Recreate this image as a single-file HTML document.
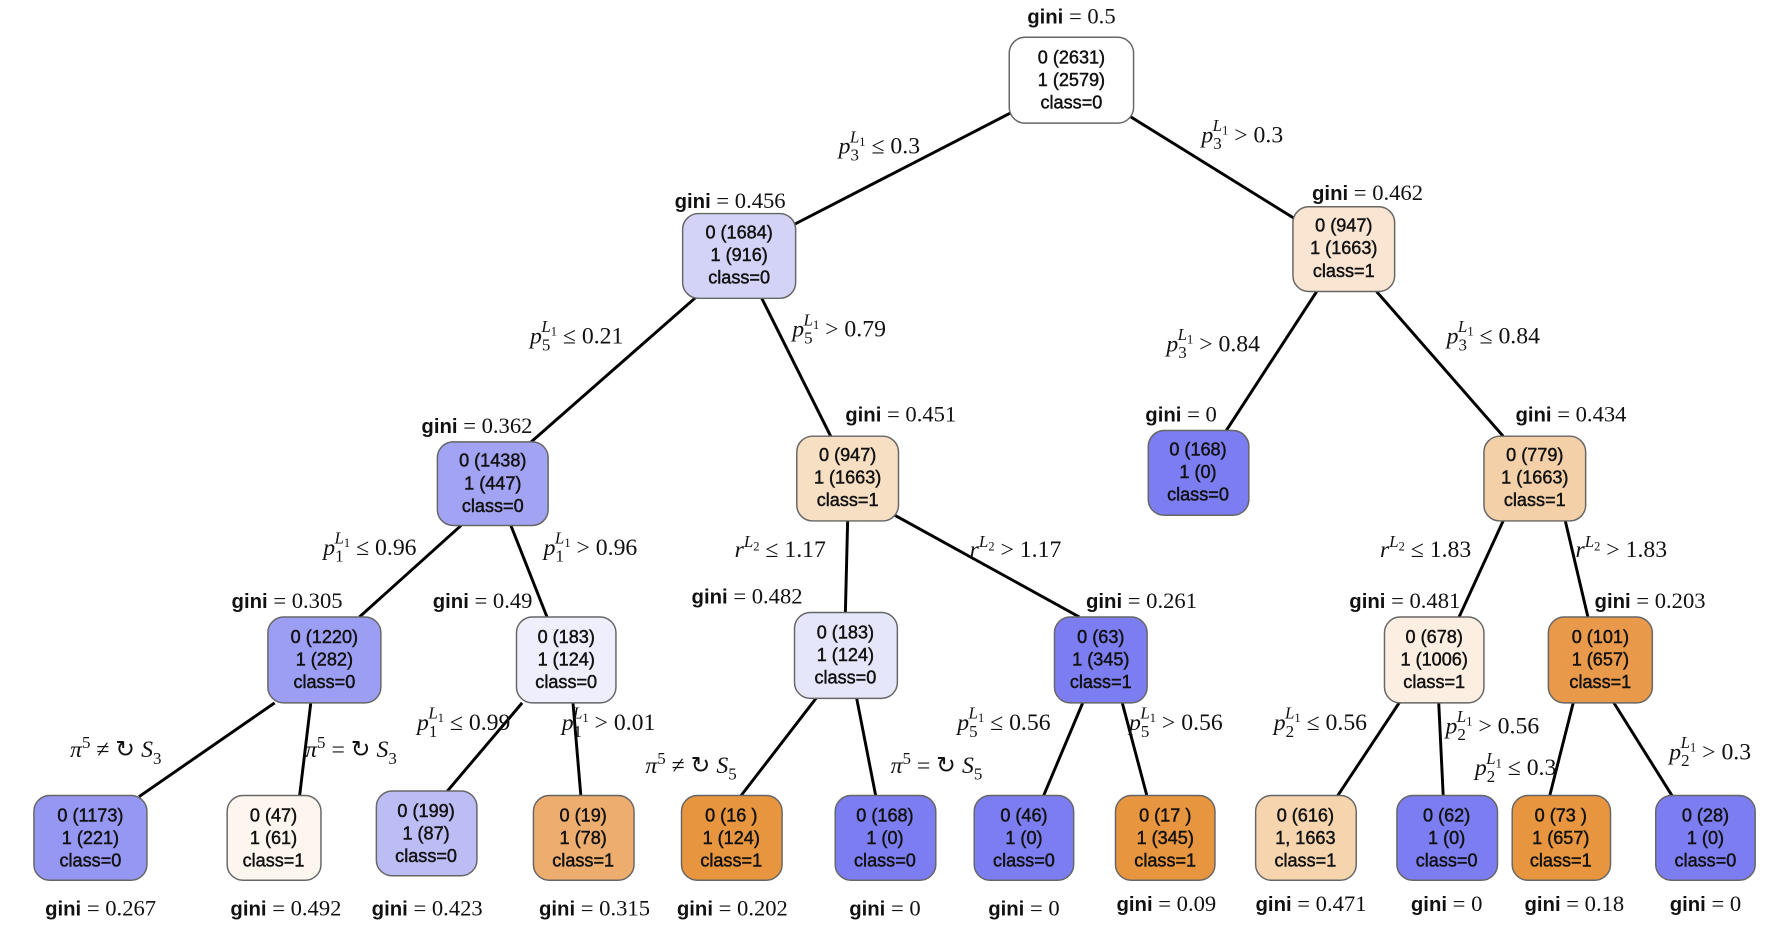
<!DOCTYPE html>
<html><head><meta charset="utf-8"><style>
html,body{margin:0;padding:0;background:#fff;}
svg{display:block}
.n{font-family:"Liberation Sans",sans-serif;font-size:16px;text-anchor:middle;fill:#111;font-weight:normal;stroke:#111;stroke-width:0.4}
.g{font-family:"Liberation Serif",serif;font-size:20px;fill:#111}
.gb{font-family:"Liberation Sans",sans-serif;font-weight:bold;font-size:18px}
.l{font-family:"Liberation Serif",serif;font-size:21px;fill:#111}
.i{font-style:italic}
.s{font-size:15px}
.ss{font-size:11px}
line{stroke:#000;stroke-width:2.6}
rect{stroke:#666;stroke-width:1.3}
</style></head><body>
<svg width="1771" height="930" viewBox="0 0 1567 823" preserveAspectRatio="none" xmlns="http://www.w3.org/2000/svg">
<!-- edges -->
<line x1="898" y1="98" x2="700" y2="200"/>
<line x1="995" y1="100" x2="1148" y2="195"/>
<line x1="617" y1="262" x2="470" y2="391"/>
<line x1="673" y1="262" x2="735" y2="386"/>
<line x1="1165" y1="258" x2="1085" y2="381"/>
<line x1="1218" y1="258" x2="1330" y2="386"/>
<line x1="408" y1="465" x2="318" y2="546"/>
<line x1="452" y1="465" x2="484" y2="546"/>
<line x1="750" y1="461" x2="748" y2="542"/>
<line x1="790" y1="455" x2="955" y2="546"/>
<line x1="1330" y1="461" x2="1291" y2="546"/>
<line x1="1385" y1="461" x2="1405" y2="546"/>
<line x1="243" y1="622" x2="123" y2="705"/>
<line x1="275" y1="622" x2="265" y2="705"/>
<line x1="462" y1="622" x2="395" y2="701"/>
<line x1="507" y1="622" x2="514" y2="705"/>
<line x1="722" y1="618" x2="655" y2="705"/>
<line x1="758" y1="618" x2="775" y2="705"/>
<line x1="958" y1="622" x2="923" y2="705"/>
<line x1="993" y1="622" x2="1015" y2="705"/>
<line x1="1238" y1="622" x2="1183" y2="705"/>
<line x1="1273" y1="622" x2="1277" y2="705"/>
<line x1="1392" y1="622" x2="1371" y2="705"/>
<line x1="1428" y1="622" x2="1480" y2="705"/>

<!-- nodes -->
<g>
<rect x="893" y="33" width="110" height="76" rx="14" fill="#ffffff"/>
<text class="n" x="948" y="56">0 (2631)</text><text class="n" x="948" y="76">1 (2579)</text><text class="n" x="948" y="96">class=0</text>

<rect x="604" y="189" width="100" height="75" rx="14" fill="#d3d3f7"/>
<text class="n" x="654" y="211">0 (1684)</text><text class="n" x="654" y="231">1 (916)</text><text class="n" x="654" y="251">class=0</text>

<rect x="1144" y="183" width="90" height="75" rx="14" fill="#f9e5d2"/>
<text class="n" x="1189" y="205">0 (947)</text><text class="n" x="1189" y="225">1 (1663)</text><text class="n" x="1189" y="245">class=1</text>

<rect x="387" y="391" width="98" height="74" rx="14" fill="#a3a3f3"/>
<text class="n" x="436" y="413">0 (1438)</text><text class="n" x="436" y="433">1 (447)</text><text class="n" x="436" y="453">class=0</text>

<rect x="705" y="386" width="90" height="75" rx="14" fill="#f7dfc3"/>
<text class="n" x="750" y="408">0 (947)</text><text class="n" x="750" y="428">1 (1663)</text><text class="n" x="750" y="448">class=1</text>

<rect x="1016" y="381" width="89" height="75" rx="14" fill="#7b7df0"/>
<text class="n" x="1060" y="403">0 (168)</text><text class="n" x="1060" y="423">1 (0)</text><text class="n" x="1060" y="443">class=0</text>

<rect x="1313" y="386" width="90" height="75" rx="14" fill="#f4d0a8"/>
<text class="n" x="1358" y="408">0 (779)</text><text class="n" x="1358" y="428">1 (1663)</text><text class="n" x="1358" y="448">class=1</text>

<rect x="237" y="546" width="100" height="76" rx="14" fill="#9b9ef3"/>
<text class="n" x="287" y="569">0 (1220)</text><text class="n" x="287" y="589">1 (282)</text><text class="n" x="287" y="609">class=0</text>

<rect x="457" y="546" width="88" height="76" rx="14" fill="#eeeefc"/>
<text class="n" x="501" y="569">0 (183)</text><text class="n" x="501" y="589">1 (124)</text><text class="n" x="501" y="609">class=0</text>

<rect x="703" y="542" width="91" height="76" rx="14" fill="#e6e6fb"/>
<text class="n" x="748" y="565">0 (183)</text><text class="n" x="748" y="585">1 (124)</text><text class="n" x="748" y="605">class=0</text>

<rect x="933" y="546" width="82" height="76" rx="14" fill="#7b7df0"/>
<text class="n" x="974" y="569">0 (63)</text><text class="n" x="974" y="589">1 (345)</text><text class="n" x="974" y="609">class=1</text>

<rect x="1225" y="546" width="88" height="76" rx="14" fill="#fcefe2"/>
<text class="n" x="1269" y="569">0 (678)</text><text class="n" x="1269" y="589">1 (1006)</text><text class="n" x="1269" y="609">class=1</text>

<rect x="1370" y="546" width="92" height="76" rx="14" fill="#e9994a"/>
<text class="n" x="1416" y="569">0 (101)</text><text class="n" x="1416" y="589">1 (657)</text><text class="n" x="1416" y="609">class=1</text>

<!-- leaves -->
<rect x="30" y="704" width="100" height="75" rx="14" fill="#9597f2"/>
<text class="n" x="80" y="727">0 (1173)</text><text class="n" x="80" y="747">1 (221)</text><text class="n" x="80" y="767">class=0</text>

<rect x="201" y="704" width="83" height="75" rx="14" fill="#fdf6ee"/>
<text class="n" x="242" y="727">0 (47)</text><text class="n" x="242" y="747">1 (61)</text><text class="n" x="242" y="767">class=1</text>

<rect x="333" y="700" width="89" height="75" rx="14" fill="#bdbdf5"/>
<text class="n" x="377" y="723">0 (199)</text><text class="n" x="377" y="743">1 (87)</text><text class="n" x="377" y="763">class=0</text>

<rect x="472" y="704" width="89" height="75" rx="14" fill="#edad6e"/>
<text class="n" x="516" y="727">0 (19)</text><text class="n" x="516" y="747">1 (78)</text><text class="n" x="516" y="767">class=1</text>

<rect x="603" y="704" width="89" height="75" rx="14" fill="#e8953f"/>
<text class="n" x="647" y="727">0 (16 )</text><text class="n" x="647" y="747">1 (124)</text><text class="n" x="647" y="767">class=1</text>

<rect x="739" y="704" width="89" height="75" rx="14" fill="#7b7df0"/>
<text class="n" x="783" y="727">0 (168)</text><text class="n" x="783" y="747">1 (0)</text><text class="n" x="783" y="767">class=0</text>

<rect x="862" y="704" width="88" height="75" rx="14" fill="#7b7df0"/>
<text class="n" x="906" y="727">0 (46)</text><text class="n" x="906" y="747">1 (0)</text><text class="n" x="906" y="767">class=0</text>

<rect x="987" y="704" width="88" height="75" rx="14" fill="#e8953f"/>
<text class="n" x="1031" y="727">0 (17 )</text><text class="n" x="1031" y="747">1 (345)</text><text class="n" x="1031" y="767">class=1</text>

<rect x="1111" y="704" width="89" height="75" rx="14" fill="#f5d4ae"/>
<text class="n" x="1155" y="727">0 (616)</text><text class="n" x="1155" y="747">1, 1663</text><text class="n" x="1155" y="767">class=1</text>

<rect x="1236" y="704" width="89" height="75" rx="14" fill="#7b7df0"/>
<text class="n" x="1280" y="727">0 (62)</text><text class="n" x="1280" y="747">1 (0)</text><text class="n" x="1280" y="767">class=0</text>

<rect x="1338" y="704" width="87" height="75" rx="14" fill="#e8953f"/>
<text class="n" x="1381" y="727">0 (73 )</text><text class="n" x="1381" y="747">1 (657)</text><text class="n" x="1381" y="767">class=1</text>

<rect x="1465" y="704" width="88" height="75" rx="14" fill="#7b7df0"/>
<text class="n" x="1509" y="727">0 (28)</text><text class="n" x="1509" y="747">1 (0)</text><text class="n" x="1509" y="767">class=0</text>
</g>

<!-- gini labels -->
<g class="g" text-anchor="middle">
<text x="948" y="21"><tspan class="gb">gini</tspan> = 0.5</text>
<text x="646" y="184"><tspan class="gb">gini</tspan> = 0.456</text>
<text x="1210" y="177"><tspan class="gb">gini</tspan> = 0.462</text>
<text x="422" y="383"><tspan class="gb">gini</tspan> = 0.362</text>
<text x="797" y="373"><tspan class="gb">gini</tspan> = 0.451</text>
<text x="1045" y="373"><tspan class="gb">gini</tspan> = 0</text>
<text x="1390" y="373"><tspan class="gb">gini</tspan> = 0.434</text>
<text x="254" y="538"><tspan class="gb">gini</tspan> = 0.305</text>
<text x="427" y="538"><tspan class="gb">gini</tspan> = 0.49</text>
<text x="661" y="534"><tspan class="gb">gini</tspan> = 0.482</text>
<text x="1010" y="538"><tspan class="gb">gini</tspan> = 0.261</text>
<text x="1243" y="538"><tspan class="gb">gini</tspan> = 0.481</text>
<text x="1460" y="538"><tspan class="gb">gini</tspan> = 0.203</text>
<text x="89" y="810"><tspan class="gb">gini</tspan> = 0.267</text>
<text x="253" y="810"><tspan class="gb">gini</tspan> = 0.492</text>
<text x="378" y="810"><tspan class="gb">gini</tspan> = 0.423</text>
<text x="526" y="810"><tspan class="gb">gini</tspan> = 0.315</text>
<text x="648" y="810"><tspan class="gb">gini</tspan> = 0.202</text>
<text x="783" y="810"><tspan class="gb">gini</tspan> = 0</text>
<text x="906" y="810"><tspan class="gb">gini</tspan> = 0</text>
<text x="1032" y="806"><tspan class="gb">gini</tspan> = 0.09</text>
<text x="1160" y="806"><tspan class="gb">gini</tspan> = 0.471</text>
<text x="1280" y="806"><tspan class="gb">gini</tspan> = 0</text>
<text x="1393" y="806"><tspan class="gb">gini</tspan> = 0.18</text>
<text x="1509" y="806"><tspan class="gb">gini</tspan> = 0</text>
</g>

<!-- edge labels -->
<g class="l">
<text x="742" y="136"><tspan class="i">p</tspan><tspan class="s" dy="6">3</tspan><tspan class="s i" dx="-8" dy="-16">L</tspan><tspan class="ss" dy="3">1</tspan><tspan dy="7"> ≤ 0.3</tspan></text>
<text x="1063" y="126"><tspan class="i">p</tspan><tspan class="s" dy="6">3</tspan><tspan class="s i" dx="-8" dy="-16">L</tspan><tspan class="ss" dy="3">1</tspan><tspan dy="7"> &gt; 0.3</tspan></text>
<text x="469" y="304"><tspan class="i">p</tspan><tspan class="s" dy="6">5</tspan><tspan class="s i" dx="-8" dy="-16">L</tspan><tspan class="ss" dy="3">1</tspan><tspan dy="7"> ≤ 0.21</tspan></text>
<text x="701" y="298"><tspan class="i">p</tspan><tspan class="s" dy="6">5</tspan><tspan class="s i" dx="-8" dy="-16">L</tspan><tspan class="ss" dy="3">1</tspan><tspan dy="7"> &gt; 0.79</tspan></text>
<text x="1032" y="311"><tspan class="i">p</tspan><tspan class="s" dy="6">3</tspan><tspan class="s i" dx="-8" dy="-16">L</tspan><tspan class="ss" dy="3">1</tspan><tspan dy="7"> &gt; 0.84</tspan></text>
<text x="1280" y="304"><tspan class="i">p</tspan><tspan class="s" dy="6">3</tspan><tspan class="s i" dx="-8" dy="-16">L</tspan><tspan class="ss" dy="3">1</tspan><tspan dy="7"> ≤ 0.84</tspan></text>
<text x="286" y="491"><tspan class="i">p</tspan><tspan class="s" dy="6">1</tspan><tspan class="s i" dx="-8" dy="-16">L</tspan><tspan class="ss" dy="3">1</tspan><tspan dy="7"> ≤ 0.96</tspan></text>
<text x="481" y="491"><tspan class="i">p</tspan><tspan class="s" dy="6">1</tspan><tspan class="s i" dx="-8" dy="-16">L</tspan><tspan class="ss" dy="3">1</tspan><tspan dy="7"> &gt; 0.96</tspan></text>
<text x="650" y="493"><tspan class="i">r</tspan><tspan class="s i" dy="-9">L</tspan><tspan class="ss" dy="3">2</tspan><tspan dy="6"> ≤ 1.17</tspan></text>
<text x="858" y="493"><tspan class="i">r</tspan><tspan class="s i" dy="-9">L</tspan><tspan class="ss" dy="3">2</tspan><tspan dy="6"> &gt; 1.17</tspan></text>
<text x="1221" y="493"><tspan class="i">r</tspan><tspan class="s i" dy="-9">L</tspan><tspan class="ss" dy="3">2</tspan><tspan dy="6"> ≤ 1.83</tspan></text>
<text x="1394" y="493"><tspan class="i">r</tspan><tspan class="s i" dy="-9">L</tspan><tspan class="ss" dy="3">2</tspan><tspan dy="6"> &gt; 1.83</tspan></text>
<text x="62" y="670"><tspan class="i">π</tspan><tspan class="s" dy="-8">5</tspan><tspan dy="8"> ≠ ↻ </tspan><tspan class="i">S</tspan><tspan class="s" dy="6">3</tspan></text>
<text x="270" y="670"><tspan class="i">π</tspan><tspan class="s" dy="-8">5</tspan><tspan dy="8"> = ↻ </tspan><tspan class="i">S</tspan><tspan class="s" dy="6">3</tspan></text>
<text x="369" y="646"><tspan class="i">p</tspan><tspan class="s" dy="6">1</tspan><tspan class="s i" dx="-8" dy="-16">L</tspan><tspan class="ss" dy="3">1</tspan><tspan dy="7"> ≤ 0.99</tspan></text>
<text x="497" y="646"><tspan class="i">p</tspan><tspan class="s" dy="6">1</tspan><tspan class="s i" dx="-8" dy="-16">L</tspan><tspan class="ss" dy="3">1</tspan><tspan dy="7"> &gt; 0.01</tspan></text>
<text x="571" y="684"><tspan class="i">π</tspan><tspan class="s" dy="-8">5</tspan><tspan dy="8"> ≠ ↻ </tspan><tspan class="i">S</tspan><tspan class="s" dy="6">5</tspan></text>
<text x="788" y="684"><tspan class="i">π</tspan><tspan class="s" dy="-8">5</tspan><tspan dy="8"> = ↻ </tspan><tspan class="i">S</tspan><tspan class="s" dy="6">5</tspan></text>
<text x="847" y="646"><tspan class="i">p</tspan><tspan class="s" dy="6">5</tspan><tspan class="s i" dx="-8" dy="-16">L</tspan><tspan class="ss" dy="3">1</tspan><tspan dy="7"> ≤ 0.56</tspan></text>
<text x="999" y="646"><tspan class="i">p</tspan><tspan class="s" dy="6">5</tspan><tspan class="s i" dx="-8" dy="-16">L</tspan><tspan class="ss" dy="3">1</tspan><tspan dy="7"> &gt; 0.56</tspan></text>
<text x="1127" y="646"><tspan class="i">p</tspan><tspan class="s" dy="6">2</tspan><tspan class="s i" dx="-8" dy="-16">L</tspan><tspan class="ss" dy="3">1</tspan><tspan dy="7"> ≤ 0.56</tspan></text>
<text x="1279" y="649"><tspan class="i">p</tspan><tspan class="s" dy="6">2</tspan><tspan class="s i" dx="-8" dy="-16">L</tspan><tspan class="ss" dy="3">1</tspan><tspan dy="7"> &gt; 0.56</tspan></text>
<text x="1305" y="686"><tspan class="i">p</tspan><tspan class="s" dy="6">2</tspan><tspan class="s i" dx="-8" dy="-16">L</tspan><tspan class="ss" dy="3">1</tspan><tspan dy="7"> ≤ 0.3</tspan></text>
<text x="1477" y="672"><tspan class="i">p</tspan><tspan class="s" dy="6">2</tspan><tspan class="s i" dx="-8" dy="-16">L</tspan><tspan class="ss" dy="3">1</tspan><tspan dy="7"> &gt; 0.3</tspan></text>
</g>
</svg>
</body></html>
